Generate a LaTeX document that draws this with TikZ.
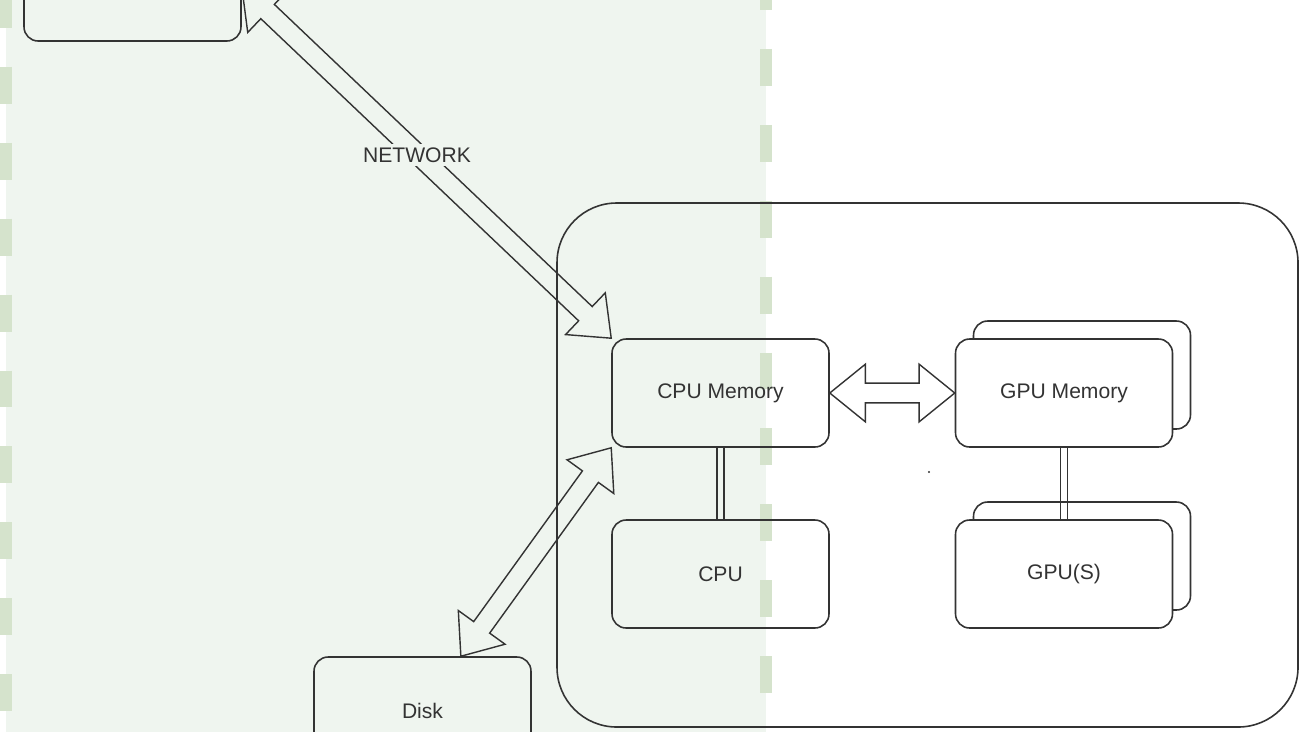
\documentclass[tikz,border=0pt]{standalone}
\usepackage{fontspec}
\setmainfont{Liberation Sans}
\usetikzlibrary{calc,shapes.arrows}

\definecolor{zonegreen}{HTML}{EFF5EF}
\definecolor{dashgreen}{HTML}{D5E3CC}
\definecolor{inkgray}{HTML}{333333}

% hollow two-headed arrow stretched between two anchors
\newcommand{\flexarrow}[2]{%
\path let \p1=($(#2)-(#1)$) in
node[flex arrow,rotate={atan2(\y1,\x1)},minimum height={veclen(\x1,\y1)}]
at ($(#1)!.5!(#2)$) {};}
% two thin parallel lines from bottom of one box to top of the next
\newcommand{\twinlink}[2]{%
\draw[link] ([xshift=-0.068cm]#1.south) -- ([xshift=-0.068cm]#2.north)
([xshift=0.068cm]#1.south) -- ([xshift=0.068cm]#2.north);}

\begin{document}
\begin{tikzpicture}[x=0.02cm,y=-0.02cm,font=\fontsize{12}{14}\selectfont]
\tikzset{
% boxes: plain, and the front copy of a stacked pair
box/.style={draw=inkgray,line width=0.9pt,rounded corners=8pt,minimum width=4.34cm,minimum height=2.16cm,inner sep=0,text=inkgray},
front box/.style={box,fill=white},
outer box/.style={draw=inkgray,line width=0.9pt,rounded corners=34pt},
zone line/.style={dashgreen,line width=6.8pt,dash pattern=on 21pt off 22.2pt},
link/.style={draw=inkgray,line width=0.8pt},
flex arrow/.style={double arrow,draw=inkgray,line width=0.8pt,inner xsep=0,inner ysep=5.2pt,double arrow head extend=10.8pt,double arrow tip angle=78}
}

\useasboundingbox (0,0) rectangle (1300,731);
\clip (0,0) rectangle (1300,731);

% shaded zone with dashed borders
\fill[zonegreen] (6,-20) rectangle (766,750);
\draw[zone line] (6,-9) -- (6,750);
\draw[zone line] (766,-27) -- (766,750);

% the machine
\draw[outer box] (557,203) rectangle (1298,727);

% the boxes
\node[box] (server) at (132.5,-13) {};
\node[box] (disk) at (422.5,711) {Disk};
\node[box] (cpumem) at (720.5,393) {CPU Memory};
\node[box] (cpu) at (720.5,574) {CPU};
\node[box] (gpumemback) at (1082,375) {};
\node[front box] (gpumem) at (1064,393) {GPU Memory};
\node[box] (gpusback) at (1082,556) {};
\node[front box] (gpus) at (1064,574) {GPU(S)};

% links
\twinlink{cpumem}{cpu}
\twinlink{gpumem}{gpus}

% transfers
\flexarrow{server.east}{cpumem.north west}
\flexarrow{disk.55}{cpumem.south west}
\flexarrow{cpumem.east}{gpumem.west}
\node[fill=zonegreen,text=inkgray,inner sep=2pt] (network) at (417,155) {NETWORK};

\fill[inkgray] (929,472) circle (0.6pt);
\end{tikzpicture}
\end{document}
